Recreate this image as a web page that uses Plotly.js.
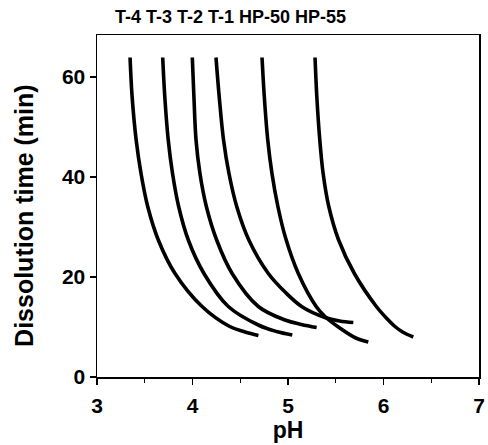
<!DOCTYPE html>
<html>
<head>
<meta charset="utf-8">
<script src="https://cdn.plot.ly/plotly-3.0.1.min.js"></script>
<style>html,body{margin:0;padding:0;background:#fff;}#chart{width:488px;height:445px;}</style>
</head>
<body>
<div id="chart"></div>
<script>
var seriesNames = ["T-4", "T-3", "T-2", "T-1", "HP-50", "HP-55"];

var t4_pH   = [3.346, 3.368, 3.410, 3.461, 3.531, 3.642, 3.817, 4.100, 4.390, 4.550, 4.690];
var t4_time = [63.9, 56.0, 47.4, 40.7, 34.1, 27.4, 20.7, 14.1, 10.1, 9.0, 8.3];

var t3_pH   = [3.688, 3.710, 3.746, 3.791, 3.855, 3.956, 4.120, 4.375, 4.700, 4.880, 5.045];
var t3_time = [63.9, 56.0, 47.4, 40.7, 34.1, 27.4, 20.7, 14.1, 10.3, 9.1, 8.4];

var t2_pH   = [3.998, 4.015, 4.037, 4.078, 4.145, 4.253, 4.415, 4.689, 4.969, 5.140, 5.300];
var t2_time = [63.9, 56.0, 47.4, 40.7, 34.1, 27.4, 20.7, 14.1, 11.4, 10.5, 9.9];

var t1_pH   = [4.246, 4.280, 4.325, 4.382, 4.463, 4.590, 4.794, 4.969, 5.150, 5.387, 5.540, 5.684];
var t1_time = [63.9, 56.0, 47.4, 40.7, 34.1, 27.4, 20.7, 17.0, 14.0, 11.9, 11.2, 10.9];

var hp50_pH   = [4.728, 4.752, 4.788, 4.832, 4.894, 4.975, 5.108, 5.295, 5.387, 5.527, 5.710, 5.841];
var hp50_time = [63.9, 56.0, 47.4, 40.7, 34.1, 27.8, 20.7, 14.1, 12.1, 10.0, 7.8, 7.0];

var hp55_pH   = [5.283, 5.302, 5.333, 5.368, 5.427, 5.530, 5.695, 5.925, 6.020, 6.120, 6.200, 6.312];
var hp55_time = [63.9, 56.0, 47.4, 40.7, 34.1, 27.4, 20.7, 14.1, 12.0, 10.1, 9.0, 8.0];

var xTicks = [3, 4, 5, 6, 7];
var yTicks = [0, 20, 40, 60];

var allX = [t4_pH, t3_pH, t2_pH, t1_pH, hp50_pH, hp55_pH];
var allY = [t4_time, t3_time, t2_time, t1_time, hp50_time, hp55_time];

var traces = allX.map(function (xs, i) {
  return {
    x: xs, y: allY[i], name: seriesNames[i],
    type: "scatter", mode: "lines",
    line: {color: "#000", width: 3.6, shape: "spline", smoothing: 1},
    showlegend: false, hoverinfo: "skip"
  };
});

var fontFam = "Liberation Sans, Arial, sans-serif";

var layout = {
  width: 488, height: 445,
  margin: {l: 97, r: 9, t: 35, b: 68, pad: 0},
  paper_bgcolor: "#fff", plot_bgcolor: "#fff",
  showlegend: false,
  xaxis: {
    range: [3, 7], tickvals: xTicks, ticktext: xTicks.map(String),
    showgrid: false, zeroline: false,
    showline: true, linecolor: "#000", linewidth: 1.5, mirror: true,
    ticks: "outside", ticklen: 6, tickwidth: 1.5, tickcolor: "#000",
    ticklabelstandoff: 3,
    minor: {dtick: 0.5, tick0: 3, ticks: "outside", ticklen: 4, tickwidth: 1.2, tickcolor: "#000"},
    tickfont: {family: fontFam, size: 21, color: "#000", weight: "bold"},
    title: {text: "pH", font: {family: fontFam, size: 23, color: "#000", weight: "bold"}, standoff: 2}
  },
  yaxis: {
    range: [0, 68.4], tickvals: yTicks, ticktext: yTicks.map(String),
    showgrid: false, zeroline: false,
    showline: true, linecolor: "#000", linewidth: 1.5, mirror: true,
    ticks: "outside", ticklen: 6, tickwidth: 1.5, tickcolor: "#000",
    tickfont: {family: fontFam, size: 21, color: "#000", weight: "bold"}
  },
  annotations: [{
    text: seriesNames.join(" "),
    xref: "paper", yref: "paper", x: 0.042, y: 1, xanchor: "left", yanchor: "middle",
    yshift: 18, showarrow: false,
    font: {family: fontFam, size: 18, color: "#000", weight: "bold"}
  }, {
    text: "Dissolution time (min)",
    xref: "paper", yref: "paper", x: 0, y: 0.471, xanchor: "center", yanchor: "middle",
    xshift: -73, textangle: -90, showarrow: false,
    font: {family: fontFam, size: 25, color: "#000", weight: "bold"}
  }]
};

Plotly.newPlot("chart", traces, layout, {staticPlot: true, displayModeBar: false});
</script>
</body>
</html>
